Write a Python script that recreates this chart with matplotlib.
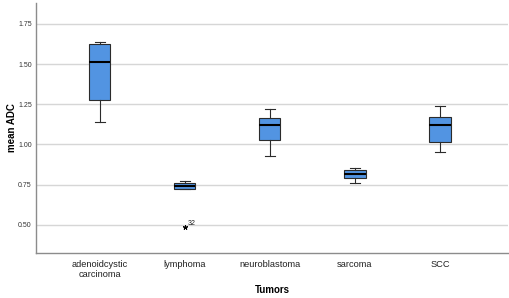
import matplotlib
matplotlib.use("Agg")
import matplotlib.pyplot as plt

categories = ["adenoidcystic\ncarcinoma", "lymphoma", "neuroblastoma", "sarcoma", "SCC"]
whislo = [1.14, 0.72, 0.93, 0.762, 0.951]
q1 = [1.279, 0.72, 1.027, 0.789, 1.013]
med = [1.51, 0.742, 1.12, 0.818, 1.122]
q3 = [1.625, 0.758, 1.167, 0.839, 1.172]
whishi = [1.64, 0.77, 1.219, 0.85, 1.241]
outliers = [[], [0.483], [], [], []]
outlier_labels = [[], ["32"], [], [], []]
yticks = [0.50, 0.75, 1.00, 1.25, 1.50, 1.75]

plt.rcParams['font.family'] = ['Liberation Sans', 'DejaVu Sans']

fig = plt.figure(figsize=(5.10, 2.98), dpi=100)
ax = fig.add_axes([0.0706, 0.151, 0.9254, 0.839])

stats = []
for i in range(len(categories)):
    stats.append(dict(whislo=whislo[i], q1=q1[i], med=med[i], q3=q3[i],
                      whishi=whishi[i], fliers=outliers[i], label=categories[i]))

positions = list(range(1, len(categories) + 1))
ax.bxp(stats, positions=positions, widths=0.25, patch_artist=True,
       capwidths=0.12,
       boxprops=dict(facecolor='#5294E2', edgecolor='#2b2b2b', linewidth=0.8),
       medianprops=dict(color='black', linewidth=1.5),
       whiskerprops=dict(color='#2b2b2b', linewidth=0.8),
       capprops=dict(color='#2b2b2b', linewidth=0.8),
       flierprops=dict(marker=(5, 2, 0), markersize=3.5, markerfacecolor='black',
                       markeredgecolor='black', markeredgewidth=0.7, linestyle='none'),
       zorder=3)

for i, (vals, labs) in enumerate(zip(outliers, outlier_labels)):
    for v, lab in zip(vals, labs):
        ax.annotate(lab, (positions[i], v), xytext=(2, 2), textcoords='offset points',
                    fontsize=5, color='#222222')

ax.set_xlim(0.25, 5.8)
ax.set_ylim(0.324, 1.88)
ax.set_yticks(yticks)
ax.set_yticklabels([f"{t:.2f}" for t in yticks], fontsize=5, color='#333333')
ax.set_xticks(positions)
ax.set_xticklabels(categories, fontsize=6.7, color='#222222', linespacing=1.1)
ax.tick_params(axis='x', length=0, pad=5)
ax.tick_params(axis='y', length=0, pad=3)
ax.grid(axis='y', color='#d6d6d6', linewidth=1.0, zorder=0)
ax.set_axisbelow(True)
for s in ['top', 'right']:
    ax.spines[s].set_visible(False)
for s in ['left', 'bottom']:
    ax.spines[s].set_color('#8c8c8c')
    ax.spines[s].set_linewidth(1.0)

ax.set_ylabel("mean ADC", fontsize=7, fontweight='bold', va='center')
ax.yaxis.set_label_coords(-0.051, 0.5)
ax.set_xlabel("Tumors", fontsize=7, fontweight='bold', va='center')
ax.xaxis.set_label_coords(0.5, -0.148)

fig.savefig("out.png", dpi=100)
